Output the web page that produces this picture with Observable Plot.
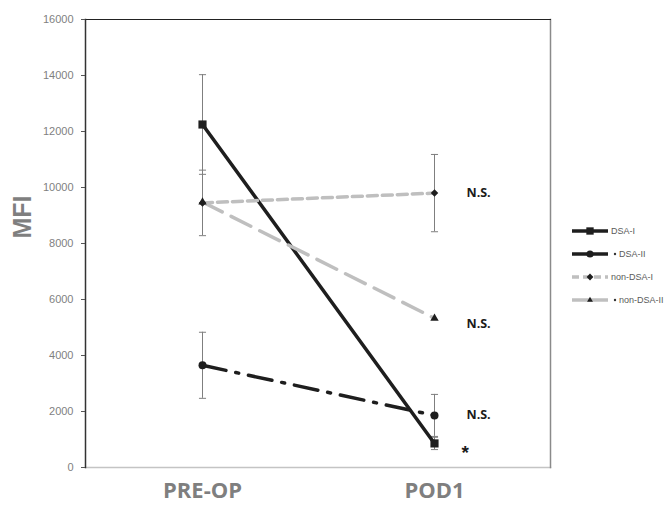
<!DOCTYPE html>
<html><head><meta charset="utf-8">
<script src="https://cdn.jsdelivr.net/npm/d3@7"></script>
<script src="https://cdn.jsdelivr.net/npm/@observablehq/plot@0.6"></script>
<style>
body{margin:0;background:#fff;}
#wrap{position:relative;width:665px;height:511px;overflow:hidden;}
#wrap svg{position:absolute;left:0;top:0;}
</style></head><body><div id="wrap"></div>
<script>
// ---- data ----
const timepoints = ["PRE-OP", "POD1"];
const seriesNames = ["DSA-I", "DSA-II", "non-DSA-I", "non-DSA-II"];
const dsaI = [12250, 860];
const dsaII = [3650, 1860];
const nonDsaI = [9450, 9800];
const nonDsaII = [9480, 5330];
const errDsaI = [1780, 220];
const errDsaII = [1180, 750];
const errNonDsaI = [1170, 1380];
const errNonDsaII = [null, null];
const yTicks = [0, 2000, 4000, 6000, 8000, 10000, 12000, 14000, 16000];
const annSeries = ["non-DSA-I", "non-DSA-II", "DSA-II", "DSA-I"];
const annLabels = ["N.S.", "N.S.", "N.S.", "*"];

// ---- styles ----
const colors = ["#1e1e1e", "#1e1e1e", "#bfbfbf", "#bfbfbf"];
const dashes = ["none", "24,10,3,10", "10,5", "22,10"];
const symbols = ["square", "circle", "diamond2", "triangle"];
const radii = [4.6, 4, 3.4, 3.1];

const values = [dsaI, dsaII, nonDsaI, nonDsaII];
const errs = [errDsaI, errDsaII, errNonDsaI, errNonDsaII];
const rows = [];
seriesNames.forEach((s, k) => timepoints.forEach((t, i) => rows.push({series: s, k, time: t, value: values[k][i], err: errs[k][i]})));
const errRows = rows.filter(d => d.err != null);
const ann = annSeries.map((s, j) => {
  const k = seriesNames.indexOf(s);
  return {label: annLabels[j], time: timepoints[1], value: values[k][1]};
});

const capSymbol = {draw(ctx, size) { const w = Math.sqrt(size) / 2; ctx.moveTo(-w, 0); ctx.lineTo(w, 0); }};

const font = "'Open Sans', sans-serif";
const marks = [
  Plot.frame({anchor: "bottom", stroke: "#c4c4c4", strokeWidth: 1.5}),
  Plot.frame({anchor: "right", stroke: "#8a8a8a", strokeWidth: 1.5}),
  Plot.frame({anchor: "top", stroke: "#222"}),
  Plot.frame({anchor: "left", stroke: "#333", strokeWidth: 1.5}),
  Plot.axisY({ticks: yTicks, tickFormat: d3.format("d"), tickSize: 4, tickPadding: 8, fontSize: 11, fill: "#7f7f7f", stroke: "#555", label: null, fontFamily: "'Liberation Sans', sans-serif"}),
  Plot.text(["MFI"], {frameAnchor: "left", dx: -63, dy: -5, rotate: -90, fontSize: 25, fontWeight: "bold", fill: "#7f7f7f", fontFamily: "'Liberation Sans Narrow', 'Liberation Sans', sans-serif"}),
  Plot.text(timepoints, {x: d => d, frameAnchor: "bottom", dy: 30, fontSize: 22, fontWeight: "bold", fill: "#7f7f7f", fontFamily: font}),
  Plot.ruleX(errRows, {x: "time", y1: d => d.value - d.err, y2: d => d.value + d.err, stroke: "#7f7f7f", strokeWidth: 1}),
  Plot.dot(errRows, {x: "time", y: d => d.value + d.err, symbol: capSymbol, r: 4, stroke: "#7f7f7f", fill: "none", strokeWidth: 1}),
  Plot.dot(errRows, {x: "time", y: d => d.value - d.err, symbol: capSymbol, r: 4, stroke: "#7f7f7f", fill: "none", strokeWidth: 1}),
];
seriesNames.forEach((s, k) => {
  const data = rows.filter(d => d.k === k);
  marks.push(Plot.line(data, {x: "time", y: "value", stroke: colors[k], strokeWidth: 3.5, strokeDasharray: dashes[k] === "none" ? null : dashes[k]}));
});
seriesNames.forEach((s, k) => {
  const data = rows.filter(d => d.k === k);
  marks.push(Plot.dot(data, {x: "time", y: "value", symbol: () => symbols[k], r: radii[k], fill: "#1e1e1e", stroke: null}));
});
ann.forEach(d => {
  marks.push(d.label === "*" ?
    Plot.text([d], {x: "time", y: "value", text: "label", textAnchor: "start", dx: 27, dy: 9, fontSize: 19, fontWeight: "bold", fill: "#1a1a1a", fontFamily: "'Liberation Sans', sans-serif"}) :
    Plot.text([d], {x: "time", y: "value", text: "label", textAnchor: "start", dx: 32, dy: d.value < 6000 && d.value > 4000 ? 6 : 0, fontSize: 12.5, fontWeight: "bold", fill: "#1a1a1a", fontFamily: font}));
});

const chart = Plot.plot({
  width: 665, height: 511,
  marginLeft: 85, marginRight: 115, marginTop: 19, marginBottom: 44,
  style: {background: "transparent", overflow: "visible"},
  x: {type: "point", domain: timepoints, padding: 0.5, axis: null},
  y: {domain: [0, 16000], axis: null},
  marks
});
document.getElementById("wrap").appendChild(chart);

// ---- legend ----
const lg = d3.select("#wrap").append("svg").attr("width", 665).attr("height", 511).style("pointer-events", "none");
const symbolMap = {square: d3.symbolSquare, circle: d3.symbolCircle, diamond2: d3.symbolDiamond2, triangle: d3.symbolTriangle2};
seriesNames.forEach((s, k) => {
  const y = 231 + k * 23;
  const g = lg.append("g").attr("transform", `translate(0,${y})`);
  g.append("line").attr("x1", 572).attr("x2", 608).attr("y1", 0).attr("y2", 0)
    .attr("stroke", colors[k]).attr("stroke-width", 3.5)
    .attr("stroke-dasharray", k === 2 ? "7,4" : null);
  if (k === 1 || k === 3) g.append("circle").attr("cx", 615).attr("cy", 0).attr("r", 1.2).attr("fill", "#333");
  const r = radii[k] * 0.9;
  g.append("path").attr("transform", "translate(590,0)")
    .attr("d", d3.symbol(symbolMap[symbols[k]], Math.PI * r * r)()).attr("fill", "#1e1e1e");
  g.append("text").attr("x", (k === 1 || k === 3) ? 619 : 611).attr("y", 0).attr("dy", "0.35em")
    .attr("font-family", "'Liberation Sans', sans-serif").attr("font-size", 9).attr("fill", "#5a5a5a").text(s);
});
</script></body></html>
